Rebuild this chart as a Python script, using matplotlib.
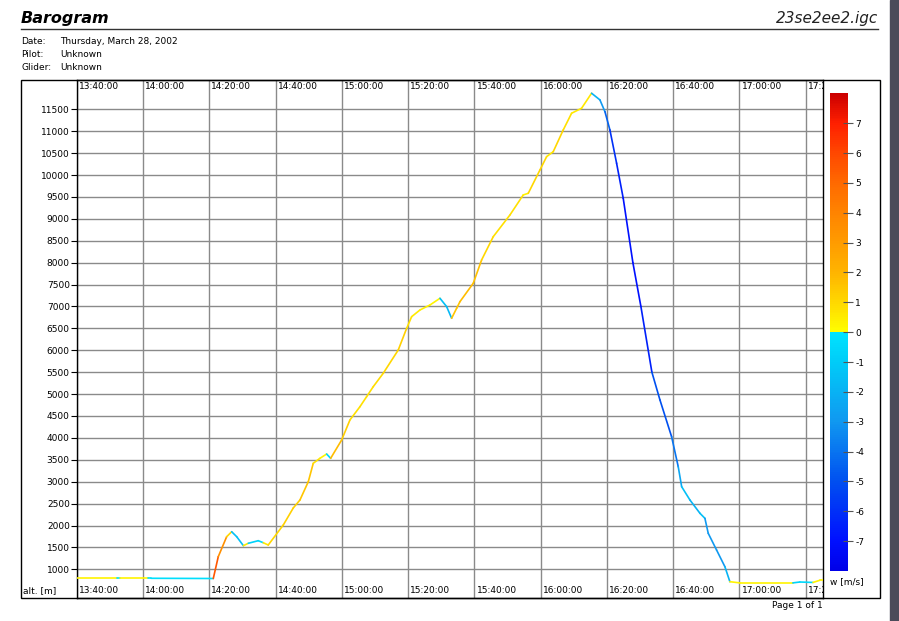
import numpy as np
import pandas as pd
import matplotlib
matplotlib.use('Agg')
import matplotlib.pyplot as plt
import matplotlib.dates as mdates
import matplotlib.transforms as mtrans
from matplotlib.collections import LineCollection
from matplotlib.colors import LinearSegmentedColormap, Normalize
from matplotlib.cm import ScalarMappable
from matplotlib.patches import Rectangle
from matplotlib.lines import Line2D

plt.rcParams['axes.unicode_minus'] = False

# barogram fixes: time, altitude [m], vario [m/s]
times = ["13:40:00", "13:52:10", "13:53:04", "14:01:31", "14:02:25", "14:21:13",
         "14:22:43", "14:25:15", "14:26:46", "14:28:17", "14:30:18", "14:31:47",
         "14:34:47", "14:36:18", "14:37:48", "14:42:20", "14:45:21", "14:47:22",
         "14:49:53", "14:51:23", "14:53:24", "14:55:25", "14:56:38", "14:59:57",
         "15:02:27", "15:05:28", "15:07:29", "15:09:29", "15:12:30", "15:17:02",
         "15:19:34", "15:21:04", "15:23:35", "15:26:36", "15:29:37", "15:31:38",
         "15:33:08", "15:34:39", "15:35:39", "15:39:40", "15:42:11", "15:45:42",
         "15:50:44", "15:54:45", "15:56:16", "15:59:47", "16:01:48", "16:03:48",
         "16:06:49", "16:09:20", "16:12:21", "16:15:22", "16:17:53", "16:19:24",
         "16:20:54", "16:22:55", "16:24:55", "16:27:50", "16:30:15", "16:33:34",
         "16:36:00", "16:39:31", "16:41:31", "16:42:33", "16:45:03", "16:48:04",
         "16:49:34", "16:50:34", "16:53:05", "16:55:36", "16:57:06", "17:00:07",
         "17:16:06", "17:18:13", "17:22:11", "17:24:16", "17:25:11"]
alt = [795, 795, 795, 795, 795, 790,
       1288, 1744, 1858, 1744, 1539, 1594,
       1653, 1607, 1555, 2011, 2400, 2582,
       3000, 3420, 3534, 3632, 3534, 3952,
       4409, 4712, 4941, 5169, 5475, 6007,
       6502, 6767, 6920, 7034, 7187, 6996,
       6731, 6959, 7110, 7530, 8062, 8594,
       9089, 9546, 9584, 10116, 10420, 10534,
       11030, 11411, 11525, 11868, 11716, 11447,
       11030, 10270, 9470, 8000, 7000, 5500,
       4866, 4027, 3342, 2886, 2582, 2279,
       2164, 1822, 1441, 1059, 717, 690,
       690, 710, 700, 750, 750]
vario = [-0.2, 0.3, -0.2, 0.3, -0.2, -0.2,
         5.5, 3.5, 1.0, -1.5, -1.5, 0.5,
         -0.8, -0.5, 0.6, 1.0, 1.2, 1.2,
         1.5, 1.5, 0.8, 0.3, -0.5, 1.8,
         1.3, 0.8, 0.8, 0.8, 0.9, 1.0,
         1.2, 0.8, 0.5, 0.4, 0.3, -1.5,
         -1.8, 1.5, 1.5, 1.8, 1.6, 1.0,
         0.8, 0.8, 0.3, 1.0, 1.0, 0.6,
         1.0, 0.8, 0.5, 0.6, -2.0, -3.0,
         -4.5, -6.0, -6.5, -7.0, -7.0, -6.5,
         -5.0, -5.0, -4.0, -2.5, -1.5, -2.0,
         -1.5, -3.0, -3.0, -3.0, -2.0, 0.3,
         0.3, -0.8, -0.5, 0.3, 0.3]

xtick_times = ["13:40:00", "14:00:00", "14:20:00", "14:40:00", "15:00:00", "15:20:00",
               "15:40:00", "16:00:00", "16:20:00", "16:40:00", "17:00:00", "17:20:00"]
ytick_vals = list(range(1000, 12000, 500))
cbar_ticks = list(range(-7, 8))

day = "2002-03-28 "
t = mdates.date2num(pd.to_datetime([day + s for s in times]))
xt = mdates.date2num(pd.to_datetime([day + s for s in xtick_times]))

W, H = 899, 621
fig = plt.figure(figsize=(W / 100, H / 100), dpi=100)
def fx(px): return px / W
def fy(py): return 1 - py / H

# vario colour scale: blues below zero, yellow -> red above
cmap = LinearSegmentedColormap.from_list("vario", [
    (0.0, "#0000e8"), (0.0625, "#0010ff"), (0.1875, "#0050f0"), (0.3125, "#1098f0"),
    (0.4375, "#00ccf8"), (0.4999, "#00e4ff"), (0.5, "#ffff00"), (0.5625, "#ffd800"),
    (0.625, "#ffb400"), (0.6875, "#ff9c00"), (0.75, "#ff8400"), (0.8125, "#ff6a00"),
    (0.875, "#ff4800"), (0.9375, "#ff2000"), (1.0, "#cc0000")])
norm = Normalize(-8, 8)

ax = fig.add_axes([fx(76.7), fy(598), fx(823 - 76.7), (598 - 80) / H])
ax.set_xlim(xt[0], xt[0] + 225.2 / 1440)
ax.set_ylim(345, 12170)
ax.set_xticks(xt)
ax.set_yticks(ytick_vals)
ax.grid(True, color="#8a8a8a", lw=1)
ax.tick_params(axis="x", length=0, labelbottom=False)
ax.tick_params(axis="y", length=4, width=0.8, pad=1, labelsize=6.5, color="black")
for s in ax.spines.values():
    s.set_linewidth(1)

pts = np.column_stack([t, alt])
segs = np.stack([pts[:-1], pts[1:]], axis=1)
lc = LineCollection(segs, cmap=cmap, norm=norm, linewidths=1.2, capstyle="round", zorder=3)
lc.set_array(np.array(vario[1:]))
ax.add_collection(lc)

# time labels drawn inside the plot, top and bottom
off = mtrans.ScaledTranslation(1.5 / 72, 0, fig.dpi_scale_trans)
tr = mtrans.blended_transform_factory(ax.transData, ax.transAxes) + off
for x, s in zip(xt, xtick_times):
    ax.text(x, 0.987, s, transform=tr, fontsize=6.5, va="center", ha="left", clip_on=True)
    ax.text(x, 0.014, s, transform=tr, fontsize=6.5, va="center", ha="left", clip_on=True)

# colour bar
cax = fig.add_axes([fx(830), fy(571), fx(17.7), (571 - 93.3) / H])
cb = fig.colorbar(ScalarMappable(norm=norm, cmap=cmap), cax=cax, ticks=cbar_ticks)
cb.outline.set_visible(False)
cax.tick_params(direction="inout", length=7, width=0.8, color="#555555", labelsize=6.5, pad=2)

# page frame and header
fig.add_artist(Rectangle((fx(21), fy(598)), fx(880 - 21), (598 - 80) / H,
                         fill=False, lw=1, ec="black", transform=fig.transFigure))
fig.add_artist(Line2D([fx(21), fx(878)], [fy(29), fy(29)], lw=1, color="#333333",
                      transform=fig.transFigure))
fig.add_artist(Rectangle((fx(890), 0), fx(9), 1, color="#4b4b5a",
                         transform=fig.transFigure))
fig.text(fx(21), fy(19), "Barogram", fontsize=11.5, fontweight="bold", style="italic",
         va="center", ha="left")
fig.text(fx(878), fy(19), "23se2ee2.igc", fontsize=11, style="italic",
         va="center", ha="right", color="#222222")
for row, (k, v) in enumerate([("Date:", "Thursday, March 28, 2002"),
                              ("Pilot:", "Unknown"), ("Glider:", "Unknown")]):
    fig.text(fx(21), fy(41 + row * 13.5), k, fontsize=6.5, va="center")
    fig.text(fx(60), fy(41 + row * 13.5), v, fontsize=6.5, va="center")
fig.text(fx(23), fy(591), "alt. [m]", fontsize=6.5, va="center")
fig.text(fx(830), fy(582), "w [m/s]", fontsize=6.5, va="center")
fig.text(fx(823), fy(605), "Page 1 of 1", fontsize=6.5, va="center", ha="right")

fig.savefig("out.png", dpi=100)
